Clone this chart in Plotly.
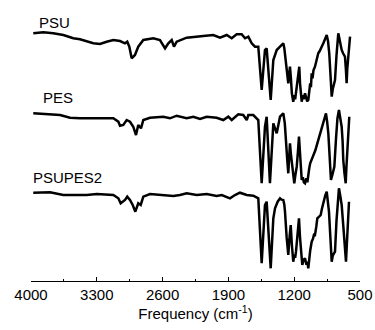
import plotly.graph_objects as go

# PSU spectrum (wavenumber cm-1, relative transmittance)
psu_wn = [3976, 3869, 3763, 3656, 3550, 3479, 3337, 3266, 3195, 3124, 3053, 3000, 2976, 2954, 2929,
          2894, 2859, 2805, 2699, 2628, 2574, 2539, 2503, 2479, 2450, 2344, 2167, 2061, 1989, 1918,
          1865, 1812, 1759, 1723, 1688, 1652, 1617, 1582, 1546, 1511, 1493, 1450, 1422, 1386,
          1351, 1335, 1316, 1305, 1298, 1280, 1263, 1255, 1245, 1235, 1225, 1210, 1200, 1190, 1173,
          1165, 1158, 1146, 1138, 1130, 1120, 1110, 1100, 1085, 1075, 1062, 1050, 1040, 1030, 1022,
          1014, 1005, 995, 979, 970, 960, 944, 930, 915, 900, 890, 870, 854, 840, 827,
          815, 801, 790, 780, 766, 750, 731, 720, 710, 695, 680, 670, 660, 650, 642,
          635, 625, 615, 606]
psu_t = [100, 101, 100, 98.3, 95, 94, 90, 89.3, 91.6, 93.3, 92.3, 90, 91.6, 86.6, 75,
         78.3, 86.6, 93.3, 95, 93.3, 85, 90, 93.3, 86.6, 91.6, 95.6, 97.3, 98.3, 95.6, 98.3,
         95, 99, 99, 95, 96.6, 90, 86.6, 86.6, 43.3, 83.3, 85, 33.3, 73.3, 83.3,
         86.6, 88, 90, 85, 80, 62, 50, 58, 66.6, 55, 40, 31.6, 38, 34, 46.6,
         55, 62, 66.6, 50, 40, 31.6, 38, 34, 40, 36, 32, 33.3, 42, 50, 46,
         60, 55, 63, 66.6, 70, 74, 80, 82, 86, 88, 90, 96, 98.3, 92, 80,
         60, 36.6, 44, 48, 53.3, 78, 100, 95, 90, 83.3, 80, 78, 76.6, 64, 50,
         65, 80, 90, 96.6]

# PES spectrum
pes_wn = [3976, 3798, 3691, 3585, 3479, 3301, 3124, 3071, 3053, 3018, 2982, 2947, 2912, 2883, 2859,
          2830, 2805, 2734, 2593, 2521, 2450, 2344, 2273, 2202, 2131, 2025, 1954, 1901, 1865, 1795,
          1742, 1705, 1688, 1635, 1582, 1546, 1511, 1493, 1458, 1422, 1386,
          1351, 1330, 1316, 1300, 1291, 1275, 1263, 1255, 1245, 1236, 1227, 1215, 1199, 1188, 1173,
          1160, 1149, 1138, 1130, 1120, 1108, 1097, 1085, 1070, 1060, 1050, 1040, 1030, 1014, 1000,
          990, 975, 960, 944, 925, 905, 890, 875, 862, 850, 837, 825, 809, 795, 785,
          773, 755, 740, 724, 710, 695, 685, 678, 665, 652, 645, 635, 625, 614]
pes_t = [100, 99.3, 98.3, 95.6, 95, 95, 95, 91.6, 87.6, 88.3, 93.3, 91.6, 86.6, 78.3, 88.3,
         85, 93.3, 95.6, 96.6, 95, 97.6, 95, 96.6, 94.3, 96.6, 95.6, 93.3, 96.6, 93.3, 99,
         98.3, 93.3, 98.3, 98.3, 93.3, 30, 86.6, 96.6, 30, 90, 80,
         96.6, 99, 100, 90, 80, 55, 40, 55, 70, 60, 53.3, 42, 30, 38, 46.6,
         62, 76.6, 60, 45, 33.3, 36, 31, 30, 35, 31, 40, 45, 50, 53.3, 57,
         60, 63, 68, 73.3, 80, 86, 90, 96, 100, 92, 80, 60, 33.3, 38, 42,
         46.6, 75, 95, 103.3, 95, 86.6, 72, 53.3, 40, 30, 45, 63.3, 80, 96.6]

# PSUPES2 spectrum
blend_wn = [3976, 3798, 3656, 3550, 3407, 3301, 3124, 3071, 3046, 3000, 2976, 2947, 2918, 2890, 2859,
            2833, 2805, 2734, 2593, 2486, 2415, 2344, 2237, 2131, 2025, 1971, 1883, 1830, 1777, 1705,
            1635, 1582, 1546, 1511, 1493, 1450, 1422, 1404, 1376,
            1351, 1335, 1316, 1305, 1298, 1280, 1263, 1250, 1237, 1225, 1210, 1198, 1190, 1181, 1165,
            1149, 1138, 1125, 1114, 1100, 1085, 1070, 1060, 1050, 1040, 1030, 1014, 1000, 990, 979,
            965, 954, 935, 918, 905, 890, 870, 854, 842, 830, 815, 801, 790, 778, 766,
            750, 735, 724, 710, 695, 682, 670, 660, 649, 640, 631, 617]
blend_t = [100, 100.4, 97.7, 97.7, 97.7, 98.7, 97.7, 94.4, 89.4, 92.7, 96, 92.7, 87.7, 81, 89.4,
           87.7, 96, 98.7, 97.7, 96.7, 97.7, 99.4, 97.7, 98.7, 96.7, 97.7, 94.4, 97.7, 100, 97.7,
           97, 94.4, 29.4, 87.7, 91, 24.4, 74.4, 84.4, 91,
           94.4, 93, 92.7, 88, 81, 55, 37.7, 55, 67.7, 48, 31, 38, 35, 41, 60,
           74.4, 55, 38, 27.7, 33, 34.4, 28, 31, 24.4, 35, 42, 51, 54, 58, 57.7,
           66, 74.4, 76, 77.7, 84, 91, 97, 101, 92, 81, 55, 31, 37, 40, 41,
           72, 95, 104.4, 97, 87.7, 72, 54.4, 42, 31, 48, 67.7, 91]

names = ["PSU", "PES", "PSUPES2"]
offsets = [147.7, 67.7, -11.7]
series = [(psu_wn, psu_t), (pes_wn, pes_t), (blend_wn, blend_t)]

fig = go.Figure()
for (wn, t), off in zip(series, offsets):
    fig.add_trace(go.Scatter(x=wn, y=[v + off for v in t], mode="lines",
                             line=dict(color="black", width=2.5), showlegend=False,
                             hoverinfo="skip"))

label_pos = [(0.018, 259), (0.030, 183.5), (0.0, 104)]
for name, (lx, ly) in zip(names, label_pos):
    fig.add_annotation(x=lx, xref="paper", y=ly, yref="y", text=name, showarrow=False,
                       xanchor="left", yanchor="middle", font=dict(size=15, color="black"))

font_family = "Arial, Liberation Sans, sans-serif"
tick_vals = [4000, 3300, 2600, 1900, 1200, 500]
fig.update_layout(
    width=375, height=330,
    margin=dict(l=31, r=15, t=0, b=49, pad=0),
    paper_bgcolor="white", plot_bgcolor="white",
    font=dict(family=font_family, color="black", size=15),
    xaxis=dict(range=[4000, 500], tickvals=tick_vals, ticktext=[str(v) for v in tick_vals],
               ticks="inside", ticklen=4, tickwidth=1, tickcolor="black",
               showline=True, linecolor="black", linewidth=1, showgrid=False, zeroline=False,
               minor=dict(tickvals=[3650, 2950, 2250, 1550, 850], ticks="inside", ticklen=2,
                          tickcolor="black"),
               tickfont=dict(size=15), automargin=False,
               title=dict(text="Frequency (cm<sup>-1</sup>)", font=dict(size=15), standoff=6)),
    yaxis=dict(range=[0, 281], visible=False, fixedrange=True),
)
fig.write_html("out.html")
